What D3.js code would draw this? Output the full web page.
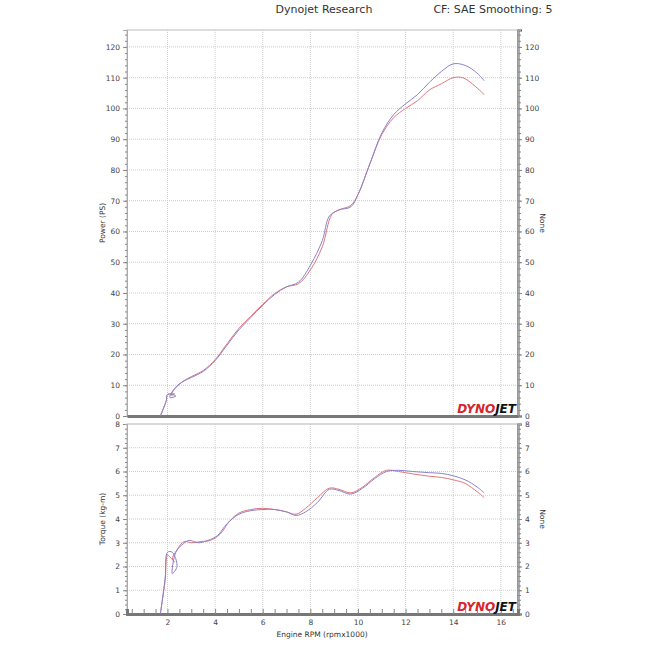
<!DOCTYPE html><html><head><meta charset="utf-8"><script src="https://cdn.jsdelivr.net/npm/d3@7"></script>
<style>body{margin:0;background:#fff}text{font-family:"DejaVu Sans",sans-serif}</style></head><body><svg id="c" width="650" height="650"></svg><script>
const rpmTicks=[2,4,6,8,10,12,14,16];
const powerTicks=[0,10,20,30,40,50,60,70,80,90,100,110,120];
const torqueTicks=[0,1,2,3,4,5,6,7,8];
const powerBlue=[[1.7,0],[1.95,5],[2.0,7],[2.35,6.5],[2.1,6],[2.3,9],[2.6,11],[3,12.5],[3.5,14.5],[4,18],[4.5,23],[5,28],[5.5,32],[6,36],[6.5,39.5],[7,42],[7.5,43.5],[8,49],[8.5,57],[8.8,65],[9.2,67],[9.7,68],[10,72],[10.5,82],[11,92],[11.5,98],[12,101.5],[12.5,104.5],[13,108.5],[13.5,112],[14,114.5],[14.5,114],[15,111.5],[15.3,109]];
const powerRed=[[1.7,0],[1.95,5],[2.0,7],[2.3,7.2],[2.15,6.8],[2.35,9.2],[2.7,11.5],[3,12.8],[3.5,14.8],[4,18.3],[4.5,23.5],[5,28.5],[5.5,32.5],[6,36.3],[6.5,39.8],[7,42],[7.5,43],[8,47.5],[8.5,55],[8.9,65.5],[9.2,67],[9.7,68.5],[10,72],[10.5,82],[11,91.5],[11.5,97],[12,100],[12.5,102.5],[13,106],[13.5,108],[14,110],[14.4,110],[14.8,108],[15.3,104.5]];
const torqueBlue=[[1.7,0],[1.9,1.5],[2.0,2.6],[2.2,2.6],[2.4,2.0],[2.2,1.7],[2.35,2.6],[2.6,2.9],[2.9,3.1],[3.3,3.0],[3.7,3.1],[4.1,3.3],[4.5,3.8],[5,4.2],[5.5,4.35],[6,4.4],[6.5,4.4],[7,4.3],[7.4,4.15],[7.8,4.3],[8.3,4.7],[8.8,5.25],[9.2,5.2],[9.7,5.05],[10.2,5.3],[10.7,5.7],[11.2,6.0],[11.7,6.05],[12.3,6.0],[13,5.95],[13.5,5.92],[14,5.82],[14.5,5.65],[15,5.35],[15.3,5.1]];
const torqueRed=[[1.7,0],[1.9,1.4],[2.0,2.5],[2.1,2.4],[2.3,2.2],[2.2,2.3],[2.4,2.7],[2.7,3.05],[3.0,3.0],[3.4,3.05],[3.8,3.1],[4.2,3.35],[4.6,3.9],[5,4.25],[5.5,4.4],[6,4.45],[6.5,4.4],[7,4.3],[7.4,4.2],[7.8,4.45],[8.3,4.9],[8.8,5.3],[9.2,5.25],[9.7,5.1],[10.2,5.35],[10.7,5.75],[11.2,6.05],[11.7,6.0],[12.3,5.9],[13,5.8],[13.5,5.75],[14,5.65],[14.5,5.5],[15,5.15],[15.3,4.9]];
const svg=d3.select("#c");
const L=127,R=518;
const x=d3.scaleLinear().domain([0.3,16.72]).range([L,R]);
const yP=d3.scaleLinear().domain([0,125.5]).range([416,30]);
const yT=d3.scaleLinear().domain([0,8]).range([614,424]);
svg.append("text").attr("x",324).attr("y",13).attr("text-anchor","middle").attr("font-size",11).attr("fill","#333").text("Dynojet Research");
svg.append("text").attr("x",493).attr("y",13).attr("text-anchor","middle").attr("font-size",11).attr("fill","#333").text("CF: SAE Smoothing: 5");
function panel(y,ticks,minorStep,blue,red,label,top){
 const g=svg.append("g");
 const [b,t]=y.range();
 g.append("rect").attr("x",L).attr("y",t).attr("width",R-L).attr("height",b-t).attr("fill","none").attr("stroke","#bbb");
 g.selectAll(".vg").data(rpmTicks).join("line").attr("x1",d=>x(d)).attr("x2",d=>x(d)).attr("y1",t).attr("y2",b).attr("stroke","#ccc").attr("stroke-dasharray","1,1");
 g.selectAll(".hg").data(ticks).join("line").attr("x1",L).attr("x2",R).attr("y1",d=>y(d)).attr("y2",d=>y(d)).attr("stroke","#ccc").attr("stroke-dasharray","1,1");
 const ax=d3.axisLeft(y).tickValues(ticks).tickSize(4).tickFormat(d3.format("d"));
 g.append("g").attr("transform",`translate(${L},0)`).call(ax);
 const ar=g.append("g").attr("transform",`translate(${R},0)`).call(d3.axisRight(y).tickValues(ticks).tickSize(4).tickFormat(d3.format("d")));
 const minor=d3.range(y.domain()[0],y.domain()[1],minorStep);
 g.append("g").attr("transform",`translate(${L},0)`).call(d3.axisLeft(y).tickValues(minor).tickSize(2).tickFormat(""));
 g.append("g").attr("transform",`translate(${R},0)`).call(d3.axisRight(y).tickValues(minor).tickSize(3).tickFormat(""));
 g.selectAll(".domain").attr("stroke","#aaa");
 g.selectAll(".tick line").attr("stroke","#888");
 g.selectAll(".tick text").attr("font-size",7.5).attr("fill","#444");
 ar.select(".domain").attr("stroke","#555").attr("stroke-width",2);
 const bx=g.append("g").attr("transform",`translate(0,${b})`).call(d3.axisBottom(x).tickValues(d3.range(0.5,16.6,0.5)).tickSize(top?0:-5).tickFormat(""));
 bx.select(".domain").attr("stroke","#777").attr("stroke-width",3);
 bx.selectAll("line").attr("stroke","#888");
 const ln=d3.line().x(d=>x(d[0])).y(d=>y(d[1])).curve(d3.curveCatmullRom);
 g.append("path").datum(red).attr("d",ln).attr("fill","none").attr("stroke","#e0767a").attr("stroke-width",1);
 g.append("path").datum(blue).attr("d",ln).attr("fill","none").attr("stroke","#8a82cc").attr("stroke-width",1);
 g.append("text").attr("transform",`translate(105,${(t+b)/2}) rotate(-90)`).attr("text-anchor","middle").attr("font-size",7.5).attr("fill","#333").text(label);
 g.append("text").attr("transform",`translate(540,${(t+b)/2}) rotate(90)`).attr("text-anchor","middle").attr("font-size",7.5).attr("fill","#333").text("None");
 const lg=g.append("text").attr("x",516).attr("y",b-3).attr("text-anchor","end").attr("font-size",12).attr("font-weight","bold").attr("font-style","italic");
 lg.append("tspan").attr("fill","#d6262c").text("DYNO");lg.append("tspan").attr("fill","#111").text("JET");
}
panel(yP,powerTicks,2,powerBlue,powerRed,"Power (PS)",true);
panel(yT,torqueTicks,0.2,torqueBlue,torqueRed,"Torque (kg-m)",false);
svg.append("g").attr("transform","translate(0,614)").call(d3.axisBottom(x).tickValues(rpmTicks).tickSize(0).tickPadding(6)).call(g=>{g.select(".domain").remove();g.selectAll("text").attr("font-size",7.5).attr("fill","#444")});
svg.append("text").attr("x",322).attr("y",637).attr("text-anchor","middle").attr("font-size",7.5).attr("fill","#333").text("Engine RPM (rpmx1000)");
</script></body></html>
